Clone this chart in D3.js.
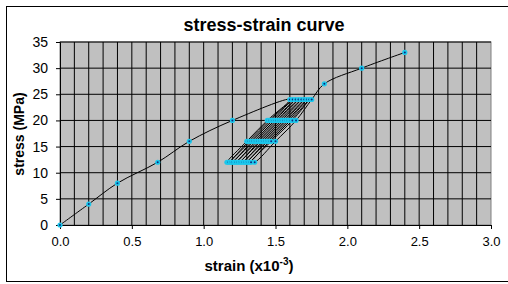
<!DOCTYPE html>
<html>
<head>
<meta charset="utf-8">
<script src="https://cdn.jsdelivr.net/npm/d3@7"></script>
<style>
  body { margin: 0; background: #fff; }
  text { font-family: "Liberation Sans", Arial, sans-serif; fill: #000; }
</style>
</head>
<body>
<svg width="508" height="284"></svg>
<script>
// stress-strain data (strain in x10^-3, stress in MPa)
var strain = [0, 0.2, 0.4, 0.68, 0.9, 1.2, 1.6,
  1.443, 1.300, 1.162, 1.172, 1.312, 1.455, 1.620,
  1.468, 1.325, 1.185, 1.196, 1.337, 1.480, 1.640,
  1.493, 1.350, 1.210, 1.221, 1.362, 1.505, 1.660,
  1.518, 1.374, 1.234, 1.246, 1.386, 1.530, 1.680,
  1.543, 1.398, 1.258, 1.270, 1.410, 1.555, 1.700,
  1.568, 1.422, 1.282, 1.294, 1.434, 1.580, 1.718,
  1.593, 1.446, 1.306, 1.318, 1.458, 1.605, 1.735,
  1.618, 1.470, 1.330, 1.355, 1.500, 1.643, 1.752,
  1.84, 2.1, 2.4];
var stress = [0, 4, 8, 12, 16, 20, 24,
  20, 16, 12, 12, 16, 20, 24,
  20, 16, 12, 12, 16, 20, 24,
  20, 16, 12, 12, 16, 20, 24,
  20, 16, 12, 12, 16, 20, 24,
  20, 16, 12, 12, 16, 20, 24,
  20, 16, 12, 12, 16, 20, 24,
  20, 16, 12, 12, 16, 20, 24,
  20, 16, 12, 12, 16, 20, 24,
  27, 30, 33];
var xTicks = [0, 0.5, 1.0, 1.5, 2.0, 2.5, 3.0];
var yTicks = [0, 5, 10, 15, 20, 25, 30, 35];

var data = strain.map(function(s, i) { return { strain: s, stress: stress[i] }; });

var svg = d3.select('svg');
var plot = { left: 60, right: 491, top: 42, bottom: 225 };

// chart frame
svg.append("rect")
   .attr("x", 6.5).attr("y", 6.5)
   .attr("width", 510).attr("height", 275)
   .attr("fill", "#fff")
   .attr("stroke", "#000");

var x = d3.scaleLinear().domain([0, 3]).range([plot.left, plot.right]);
var y = d3.scaleLinear().domain([0, 35]).range([plot.bottom, plot.top]);

// plot area
svg.append("rect")
   .attr("x", plot.left).attr("y", plot.top)
   .attr("width", plot.right - plot.left).attr("height", plot.bottom - plot.top)
   .attr("fill", "#c0c0c0")
   .attr("stroke", "#808080");

// vertical grid every 0.1
svg.append("g")
   .selectAll("line")
   .data(d3.range(1, 30).map(function(i) { return i / 10; }))
   .join("line")
   .attr("x1", function(d) { return x(d); }).attr("x2", function(d) { return x(d); })
   .attr("y1", plot.top).attr("y2", plot.bottom)
   .attr("stroke", "#000");

// horizontal grid
svg.append("g")
   .selectAll("line")
   .data(yTicks.slice(1))
   .join("line")
   .attr("x1", plot.left).attr("x2", plot.right)
   .attr("y1", function(d) { return y(d); }).attr("y2", function(d) { return y(d); })
   .attr("stroke", "#000");

// axes
var xAxis = svg.append("g")
   .attr("transform", "translate(0," + plot.bottom + ")")
   .call(d3.axisBottom(x).tickValues(xTicks).tickSize(4).tickPadding(8)
          .tickFormat(d3.format(".1f")));
var yAxis = svg.append("g")
   .attr("transform", "translate(" + plot.left + ",0)")
   .call(d3.axisLeft(y).tickValues(yTicks).tickSize(4).tickPadding(8));
[xAxis, yAxis].forEach(function(a) {
  a.select(".domain").attr("stroke", "#000");
  a.selectAll(".tick line").attr("stroke", "#000");
  a.selectAll(".tick text").attr("font-size", 13).attr("font-family", null);
});
yAxis.selectAll(".tick text").attr("font-size", 14);

// curve
var line = d3.line()
   .x(function(d) { return x(d.strain); })
   .y(function(d) { return y(d.stress); })
   .curve(d3.curveCatmullRom.alpha(0.5));

svg.append("path")
   .datum(data)
   .attr("fill", "none")
   .attr("stroke", "#000")
   .attr("stroke-width", 1)
   .attr("d", line);

// markers
var m = svg.append("g").selectAll("g").data(data).join("g")
   .attr("transform", function(d) { return "translate(" + x(d.strain) + "," + y(d.stress) + ")"; });
m.append("circle").attr("r", 2.6).attr("fill", "#1cc8ec");
m.append("circle").attr("r", 1).attr("fill", "#0a2a80");

// titles
svg.append("text")
   .attr("x", 264).attr("y", 31)
   .attr("text-anchor", "middle")
   .attr("font-size", 18).attr("font-weight", "bold")
   .text("stress-strain curve");

var xt = svg.append("text")
   .attr("x", 249).attr("y", 271)
   .attr("text-anchor", "middle")
   .attr("font-size", 15).attr("font-weight", "bold");
xt.append("tspan").text("strain (x10");
xt.append("tspan").attr("dy", -6).attr("font-size", 10).text("-3");
xt.append("tspan").attr("dy", 6).text(")");

svg.append("text")
   .attr("transform", "translate(24,134) rotate(-90)")
   .attr("text-anchor", "middle")
   .attr("font-size", 14).attr("font-weight", "bold")
   .text("stress (MPa)");
</script>
</body>
</html>
